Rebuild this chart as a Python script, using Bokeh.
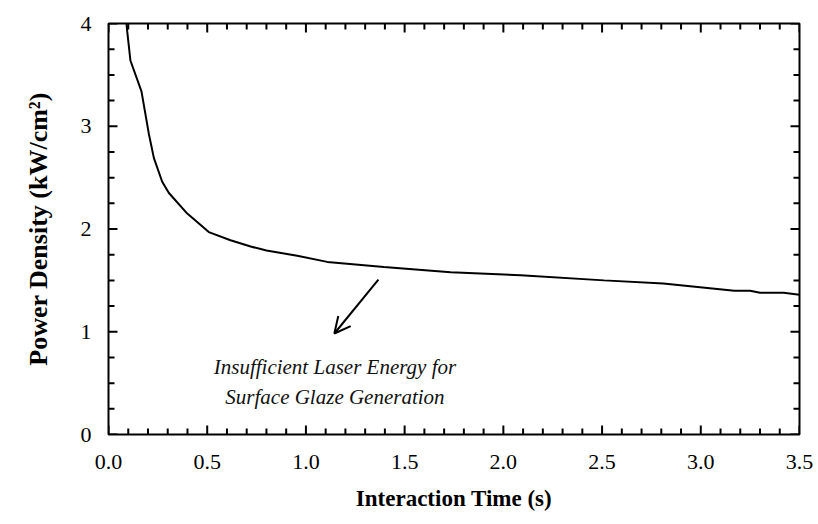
from bokeh.plotting import figure
from bokeh.models import (Range1d, LinearAxis, FixedTicker, CustomJSTickFormatter,
                          Arrow, OpenHead, Label, ColumnDataSource)
from bokeh.embed import file_html
from bokeh.resources import INLINE

# ---- data ----
time_s = [0.091, 0.095, 0.111, 0.167, 0.204, 0.23, 0.272, 0.306, 0.399, 0.508,
          0.618, 0.72, 0.80, 0.956, 1.108, 1.395, 1.733, 2.087, 2.51, 2.81,
          3.17, 3.25, 3.30, 3.42, 3.5]
power = [4.0, 3.92, 3.64, 3.34, 2.93, 2.69, 2.46, 2.35, 2.15, 1.97,
         1.89, 1.83, 1.79, 1.74, 1.68, 1.63, 1.58, 1.55, 1.50, 1.47,
         1.40, 1.40, 1.38, 1.38, 1.36]

x_major = [0.0, 0.5, 1.0, 1.5, 2.0, 2.5, 3.0, 3.5]
x_minor = [round(i / 10, 1) for i in range(0, 36) if i % 5 != 0]
y_major = [0, 1, 2, 3, 4]
y_minor = [i / 4 for i in range(0, 17) if i % 4 != 0]

note_lines = ["Insufficient Laser Energy for", "Surface Glaze Generation"]
note_x = 1.147
note_y = [0.659, 0.367]
arrow_tail = (1.367, 1.508)
arrow_head = (1.144, 0.983)

X0, X1, Y0, Y1 = 0, 3.5, 0, 4
FW, FH = 691, 411
SERIF = "Liberation Serif"

p = figure(frame_width=FW, frame_height=FH, output_backend="svg",
           toolbar_location=None,
           x_range=Range1d(X0, X1), y_range=Range1d(Y0, Y1),
           x_axis_type=None, y_axis_type=None,
           min_border_left=108, min_border_right=17, min_border_top=23,
           min_border_bottom=88)
p.grid.visible = False
p.outline_line_color = "black"
p.outline_line_width = 2
p.background_fill_color = None
p.border_fill_color = "white"


def style(ax):
    ax.axis_line_color = None
    ax.major_tick_in = 0
    ax.major_tick_out = 0
    ax.minor_tick_in = 0
    ax.minor_tick_out = 0
    ax.major_label_text_font = SERIF
    ax.major_label_text_font_size = "22px"
    ax.major_label_text_color = "black"
    ax.axis_label_text_font = SERIF
    ax.axis_label_text_font_style = "bold"
    ax.axis_label_text_color = "black"


bx = LinearAxis(ticker=FixedTicker(ticks=x_major), axis_label="Interaction Time (s)")
bx.formatter = CustomJSTickFormatter(code="return tick.toFixed(1)")
style(bx)
bx.axis_label_text_font_size = "23px"
bx.major_label_standoff = 20
bx.axis_label_standoff = 14
p.add_layout(bx, "below")

ly = LinearAxis(ticker=FixedTicker(ticks=y_major), axis_label="Power Density (kW/cm²)")
ly.formatter = CustomJSTickFormatter(code="return tick.toFixed(0)")
style(ly)
ly.axis_label_text_font_size = "26px"
ly.major_label_standoff = 17
ly.axis_label_standoff = 25
p.add_layout(ly, "left")

# inward tick marks on all four sides, built from the tick lists
MAJ, MIN = 9, 6                       # tick lengths in pixels
kx = (X1 - X0) / FW                   # data units per pixel (x)
ky = (Y1 - Y0) / FH                   # data units per pixel (y)
xs0, ys0, xs1, ys1 = [], [], [], []
for ticks, ln in ((x_major, MAJ), (x_minor, MIN)):
    for t in ticks:
        xs0 += [t, t]
        xs1 += [t, t]
        ys0 += [Y0, Y1]
        ys1 += [Y0 + ln * ky, Y1 - ln * ky]
for ticks, ln in ((y_major, MAJ), (y_minor, MIN)):
    for t in ticks:
        ys0 += [t, t]
        ys1 += [t, t]
        xs0 += [X0, X1]
        xs1 += [X0 + ln * kx, X1 - ln * kx]
tick_src = ColumnDataSource(dict(x0=xs0, y0=ys0, x1=xs1, y1=ys1))
p.segment(x0="x0", y0="y0", x1="x1", y1="y1", source=tick_src,
          line_color="black", line_width=2)

p.line(time_s, power, line_color="black", line_width=2)

p.add_layout(Arrow(end=OpenHead(size=16, line_width=2, line_color="black"),
                   x_start=arrow_tail[0], y_start=arrow_tail[1],
                   x_end=arrow_head[0], y_end=arrow_head[1],
                   line_width=2, line_color="black"))

for line, yy in zip(note_lines, note_y):
    p.add_layout(Label(x=note_x, y=yy, text=line, text_align="center",
                       text_baseline="alphabetic", text_font=SERIF,
                       text_font_style="italic", text_font_size="21px",
                       text_color="#111111"))

open("out.html", "w").write(file_html(p, INLINE))
